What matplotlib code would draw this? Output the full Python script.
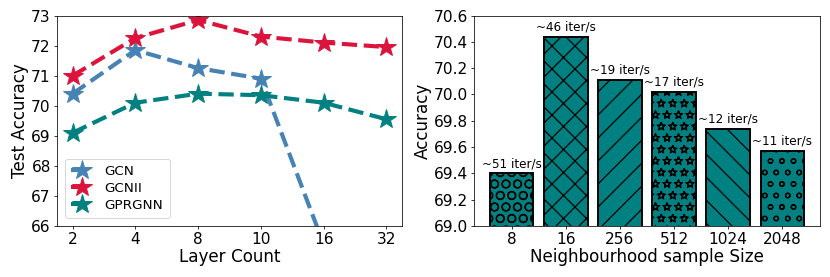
import matplotlib
matplotlib.use("Agg")
import matplotlib.pyplot as plt
import matplotlib.hatch as mhatch
import numpy as np

# Left panel data
layer_labels = ["2", "4", "8", "10", "16", "32"]
gcn = [70.4, 71.85, 71.25, 70.9, 65.4, 60.0]
gcnii = [71.0, 72.25, 72.85, 72.3, 72.1, 71.95]
gprgnn = [69.1, 70.1, 70.4, 70.35, 70.1, 69.55]

# Right panel data
sample_labels = ["8", "16", "256", "512", "1024", "2048"]
accuracy = [69.40, 70.44, 70.11, 70.02, 69.74, 69.57]
speed_labels = ["~51 iter/s", "~46 iter/s", "~19 iter/s", "~17 iter/s", "~12 iter/s", "~11 iter/s"]
hatches = ["O", "x", "/", "*", "\\", "o"]


# hollow star hatch (outlined stars)
class HollowStars(mhatch.Stars):
    filled = False


try:
    mhatch._hatch_types[mhatch._hatch_types.index(mhatch.Stars)] = HollowStars
except Exception:
    pass

DPI = 830 / 12
plt.rcParams['hatch.linewidth'] = 1.3
fig = plt.figure(figsize=(830 / DPI, 277 / DPI), dpi=DPI)
ax1 = fig.add_axes([57/830, 1 - 226/277, (402-57)/830, (226-15.5)/277])
ax2 = fig.add_axes([474/830, 1 - 226/277, (820-474)/830, (226-15.5)/277])

x = np.arange(len(layer_labels))
for ys, c, lab in [(gcn, "#4682B4", "GCN"), (gcnii, "#DC143C", "GCNII"), (gprgnn, "#008080", "GPRGNN")]:
    ax1.plot(x, ys, linestyle="--", color=c, marker="*", markersize=21, linewidth=4.3,
             label=lab)
ax1.set_ylim(66, 73)
ax1.set_xlim(-0.25, 5.25)
ax1.set_xticks(x)
ax1.set_xticklabels(layer_labels)
ax1.set_yticks(range(66, 74))
ax1.tick_params(labelsize=16, pad=3)
ax1.set_xlabel("Layer Count", fontsize=17.5, labelpad=1)
ax1.set_ylabel("Test Accuracy", fontsize=17.5, labelpad=2)
ax1.legend(loc="lower left", fontsize=14, handlelength=1.6, borderaxespad=0.6,
           labelspacing=0.3, handletextpad=0.9, borderpad=0.45)

xb = np.arange(len(sample_labels))
bars = ax2.bar(xb, accuracy, width=0.8, color="#008080", edgecolor="black", linewidth=2.0)
for b, h in zip(bars, hatches):
    b.set_hatch(h)
for xi, v, t in zip(xb, accuracy, speed_labels):
    ax2.text(xi, v + 0.025, t, ha="center", va="bottom", fontsize=12.5)
ax2.set_ylim(69.0, 70.6)
ax2.set_xlim(-0.7, 5.7)
ax2.set_xticks(xb)
ax2.set_xticklabels(sample_labels)
ax2.set_yticks(np.arange(69.0, 70.61, 0.2))
ax2.yaxis.set_major_formatter(matplotlib.ticker.FormatStrFormatter("%.1f"))
ax2.tick_params(labelsize=16, pad=3)
ax2.set_xlabel("Neighbourhood sample Size", fontsize=17.5, labelpad=1)
ax2.set_ylabel("Accuracy", fontsize=17.5, labelpad=2)

fig.savefig("out.png", dpi=DPI)
